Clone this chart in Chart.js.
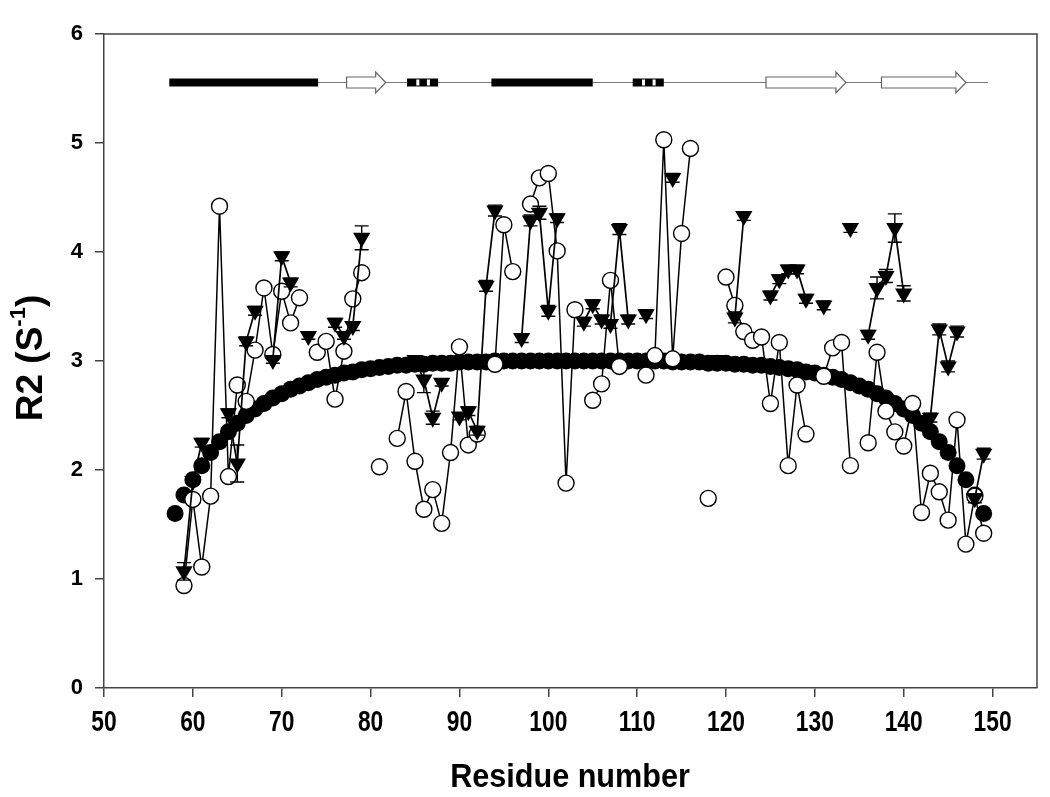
<!DOCTYPE html>
<html>
<head>
<meta charset="utf-8">
<script src="https://cdn.jsdelivr.net/npm/chart.js@4.4.1/dist/chart.umd.min.js"></script>
<style>
html, body { margin: 0; padding: 0; background: #fff; }
#wrap { width: 1050px; height: 797px; }
</style>
</head>
<body>
<div id="wrap"><canvas id="r2Chart" width="1050" height="797"></canvas></div>
<script>
// residue numbers (x)
const residues = [58, 59, 60, 61, 62, 63, 64, 65, 66, 67, 68, 69, 70, 71, 72, 73, 74, 75, 76, 77,
	78, 79, 80, 81, 82, 83, 84, 85, 86, 87, 88, 89, 90, 91, 92, 93, 94, 95, 96, 97,
	98, 99, 100, 101, 102, 103, 104, 105, 106, 107, 108, 109, 110, 111, 112, 113, 114, 115, 116, 117,
	118, 119, 120, 121, 122, 123, 124, 125, 126, 127, 128, 129, 130, 131, 132, 133, 134, 135, 136, 137,
	138, 139, 140, 141, 142, 143, 144, 145, 146, 147, 148, 149];

// filled circles (smooth profile)
const fitR2 = [1.60, 1.77, 1.91, 2.04, 2.16, 2.26, 2.35, 2.43, 2.50, 2.56, 2.61, 2.66, 2.70, 2.74, 2.77, 2.80, 2.83, 2.85, 2.87, 2.89,
	2.90, 2.92, 2.93, 2.94, 2.95, 2.96, 2.96, 2.97, 2.97, 2.98, 2.98, 2.98, 2.99, 2.99, 2.99, 2.99, 3.00, 3.00, 3.00, 3.00,
	3.00, 3.00, 3.00, 3.00, 3.00, 3.00, 3.00, 3.00, 3.00, 3.00, 3.00, 3.00, 3.00, 3.00, 3.00, 3.00, 2.99, 2.99, 2.99, 2.99,
	2.98, 2.98, 2.98, 2.97, 2.97, 2.96, 2.96, 2.95, 2.94, 2.93, 2.92, 2.90, 2.89, 2.87, 2.85, 2.83, 2.80, 2.77, 2.74, 2.70,
	2.66, 2.61, 2.56, 2.50, 2.43, 2.35, 2.26, 2.16, 2.04, 1.91, 1.77, 1.60];

// open circles
const openR2 = [null, 0.94, 1.73, 1.11, 1.76, 4.42, 1.94, 2.78, 2.63, 3.10, 3.67, 3.06, 3.64, 3.35, 3.58, null, 3.08, 3.18, 2.65, 3.09,
	3.57, 3.81, null, 2.03, null, 2.29, 2.72, 2.08, 1.64, 1.82, 1.51, 2.16, 3.13, 2.23, 2.33, null, 2.97, 4.25, 3.82, null,
	4.44, 4.68, 4.72, 4.01, 1.88, 3.47, null, 2.64, 2.79, 3.74, 2.95, null, null, 2.87, 3.05, 5.03, 3.02, 4.17, 4.95, null,
	1.74, null, 3.77, 3.51, 3.27, 3.19, 3.22, 2.61, 3.17, 2.04, 2.78, 2.33, null, 2.86, 3.12, 3.17, 2.04, null, 2.25, 3.08,
	2.54, 2.35, 2.22, 2.61, 1.61, 1.97, 1.80, 1.54, 2.46, 1.32, 1.76, 1.42];

// filled triangles and their error bars
const triR2 = [null, 1.07, 1.90, 2.25, null, null, 2.52, 2.06, 3.18, 3.46, null, 3.01, 3.96, 3.72, null, 3.23, null, null, 3.35, 3.23,
	3.32, 4.13, null, null, null, null, null, 3.01, 2.83, 2.48, 2.80, null, 2.49, 2.54, 2.36, 3.69, 4.38, null, null, 3.21,
	4.29, 4.36, 3.46, 4.31, null, null, 3.36, 3.52, 3.38, 3.34, 4.21, 3.38, null, 3.43, null, null, 4.68, null, null, null,
	null, 3.01, null, 3.40, 4.33, null, null, 3.60, 3.75, 3.84, 3.84, 3.57, null, 3.51, null, null, 4.22, null, 3.24, 3.67,
	3.78, 4.22, 3.62, null, null, 2.48, 3.29, 2.95, 3.27, null, 1.74, 2.15];
const triErr = [0, 0.08, 0.03, 0.04, 0, 0, 0.04, 0.17, 0.04, 0.04, 0, 0.03, 0.04, 0.04, 0, 0.03, 0, 0, 0.04, 0.03,
	0.04, 0.11, 0, 0, 0, 0, 0, 0.03, 0.12, 0.06, 0.03, 0, 0.03, 0.04, 0.04, 0.05, 0.05, 0, 0, 0.04,
	0.05, 0.06, 0.05, 0.04, 0, 0, 0.04, 0.04, 0.04, 0.04, 0.05, 0.04, 0, 0.04, 0, 0, 0.04, 0, 0, 0,
	0, 0.03, 0, 0.05, 0.04, 0, 0, 0.04, 0.04, 0.04, 0.04, 0.04, 0, 0.04, 0, 0, 0.04, 0, 0.04, 0.10,
	0.06, 0.13, 0.07, 0, 0, 0.04, 0.05, 0.05, 0.05, 0, 0.04, 0.05];

// secondary structure diagram (residue ranges)
const ssType = ['helix', 'strand', 'helix310', 'helix', 'helix310', 'strand', 'strand'];
const ssStart = [57.35, 77.3, 84.1, 93.6, 109.5, 124.5, 137.5];
const ssEnd = [74.1, 81.7, 87.6, 105.0, 113.0, 133.5, 147.0];
const ssSpan = [57.35, 149.5];
const ssLevel = 5.56;

const xTitle = 'Residue number';

const FONT = '"Liberation Sans", Arial, sans-serif';

function toPoints(vals) {
	return residues.map((r, i) => ({ x: r, y: vals[i] }));
}

const frameAndTitles = {
	id: 'frameAndTitles',
	afterDraw(chart) {
		const { ctx, chartArea: a, scales } = chart;
		ctx.save();
		ctx.strokeStyle = '#444';
		ctx.lineWidth = 1.5;
		ctx.beginPath();
		ctx.moveTo(a.left, a.top);
		ctx.lineTo(a.right, a.top);
		ctx.lineTo(a.right, a.bottom);
		ctx.stroke();

		ctx.fillStyle = '#000';
		ctx.textBaseline = 'middle';
		ctx.textAlign = 'center';

		// x tick labels, narrow bold
		ctx.font = 'bold 30px ' + FONT;
		for (const t of scales.x.ticks) {
			const px = scales.x.getPixelForValue(t.value);
			ctx.save();
			ctx.translate(px, 723);
			ctx.scale(0.76, 1);
			ctx.fillText(String(t.value), 0, 0);
			ctx.restore();
		}

		// x title
		ctx.save();
		ctx.translate(570, 778);
		ctx.scale(0.9, 1);
		ctx.font = 'bold 34px ' + FONT;
		ctx.fillText(xTitle, 0, 0);
		ctx.restore();

		// y title with superscript
		ctx.translate(32, 358);
		ctx.rotate(-Math.PI / 2);
		const big = 'bold 37px ' + FONT;
		const small = 'bold 22px ' + FONT;
		ctx.font = big;
		const w1 = ctx.measureText('R2 (S').width;
		const w3 = ctx.measureText(')').width;
		ctx.font = small;
		const w2 = ctx.measureText('-1').width;
		let x = -(w1 + w2 + w3) / 2;
		ctx.textAlign = 'left';
		ctx.font = big;
		ctx.fillText('R2 (S', x, 0);
		x += w1;
		ctx.font = small;
		ctx.fillText('-1', x, -13);
		x += w2;
		ctx.font = big;
		ctx.fillText(')', x, 0);
		ctx.restore();
	}
};

const errorBars = {
	id: 'errorBars',
	afterDatasetsDraw(chart) {
		const { ctx, scales } = chart;
		ctx.save();
		ctx.strokeStyle = '#000';
		ctx.lineWidth = 1.4;
		for (let i = 0; i < residues.length; i++) {
			if (triR2[i] == null || !triErr[i]) continue;
			const px = scales.x.getPixelForValue(residues[i]);
			const hi = scales.y.getPixelForValue(triR2[i] + triErr[i]);
			const lo = scales.y.getPixelForValue(triR2[i] - triErr[i]);
			ctx.beginPath();
			ctx.moveTo(px, hi); ctx.lineTo(px, lo);
			ctx.moveTo(px - 7, hi); ctx.lineTo(px + 7, hi);
			ctx.moveTo(px - 7, lo); ctx.lineTo(px + 7, lo);
			ctx.stroke();
		}
		ctx.restore();
	}
};

const secStructure = {
	id: 'secStructure',
	afterDatasetsDraw(chart) {
		const { ctx, scales } = chart;
		const yc = Math.round(scales.y.getPixelForValue(ssLevel)) + 0.5;
		ctx.save();
		ctx.strokeStyle = '#777';
		ctx.lineWidth = 1.2;
		ctx.beginPath();
		ctx.moveTo(scales.x.getPixelForValue(ssSpan[0]), yc);
		ctx.lineTo(scales.x.getPixelForValue(ssSpan[1]), yc);
		ctx.stroke();

		for (let i = 0; i < ssType.length; i++) {
			const x0 = scales.x.getPixelForValue(ssStart[i]);
			const x1 = scales.x.getPixelForValue(ssEnd[i]);
			if (ssType[i] == 'helix') {
				ctx.fillStyle = '#000';
				ctx.fillRect(x0, yc - 4, x1 - x0, 8);
			} else if (ssType[i] == 'helix310') {
				ctx.fillStyle = '#000';
				ctx.fillRect(x0, yc - 4, x1 - x0, 8);
				ctx.fillStyle = '#fff';
				const w = x1 - x0;
				ctx.fillRect(x0 + w * 0.3, yc - 3, 3, 6);
				ctx.fillRect(x0 + w * 0.64, yc - 3, 3, 6);
			} else {
				const xb = x1 - 10;
				ctx.fillStyle = '#fff';
				ctx.strokeStyle = '#666';
				ctx.lineWidth = 1.2;
				ctx.beginPath();
				ctx.moveTo(x0, yc - 5.5);
				ctx.lineTo(xb, yc - 5.5);
				ctx.lineTo(xb, yc - 10.5);
				ctx.lineTo(x1, yc);
				ctx.lineTo(xb, yc + 10.5);
				ctx.lineTo(xb, yc + 5.5);
				ctx.lineTo(x0, yc + 5.5);
				ctx.closePath();
				ctx.fill();
				ctx.stroke();
			}
		}
		ctx.restore();
	}
};

new Chart(document.getElementById('r2Chart').getContext('2d'), {
	type: 'scatter',
	data: {
		datasets: [{
			label: 'fit',
			data: toPoints(fitR2),
			showLine: false,
			pointStyle: 'circle',
			pointRadius: 8.5,
			pointBackgroundColor: '#000',
			pointBorderColor: '#000',
			pointBorderWidth: 0,
			order: 3
		}, {
			label: 'open',
			data: toPoints(openR2),
			showLine: true,
			spanGaps: false,
			borderColor: '#000',
			borderWidth: 1.5,
			pointStyle: 'circle',
			pointRadius: 8,
			pointBackgroundColor: '#fff',
			pointBorderColor: '#000',
			pointBorderWidth: 1.4,
			order: 2
		}, {
			label: 'triangles',
			data: toPoints(triR2),
			showLine: true,
			spanGaps: false,
			borderColor: '#000',
			borderWidth: 1.7,
			pointStyle: 'triangle',
			pointRotation: 180,
			pointRadius: 10,
			pointBackgroundColor: '#000',
			pointBorderColor: '#000',
			pointBorderWidth: 0,
			order: 1
		}]
	},
	options: {
		responsive: false,
		animation: false,
		events: [],
		layout: { padding: { top: 34, right: 13, left: 0, bottom: 0 } },
		plugins: {
			legend: { display: false },
			tooltip: { enabled: false }
		},
		scales: {
			x: {
				type: 'linear',
				min: 50,
				max: 155,
				afterFit: (s) => { s.height = 109; },
				ticks: { display: false, stepSize: 10, includeBounds: false },
				grid: { drawOnChartArea: false, tickLength: 9, color: '#444', lineWidth: 1.5 },
				border: { color: '#444', width: 1.5 }
			},
			y: {
				min: 0,
				max: 6,
				afterFit: (s) => { s.width = 104; },
				ticks: { stepSize: 1, color: '#000', font: { family: FONT, weight: 'bold', size: 22 }, padding: 12 },
				grid: { drawOnChartArea: false, tickLength: 9, color: '#444', lineWidth: 1.5 },
				border: { color: '#444', width: 1.5 }
			}
		}
	},
	plugins: [secStructure, errorBars, frameAndTitles]
});
</script>
</body>
</html>
